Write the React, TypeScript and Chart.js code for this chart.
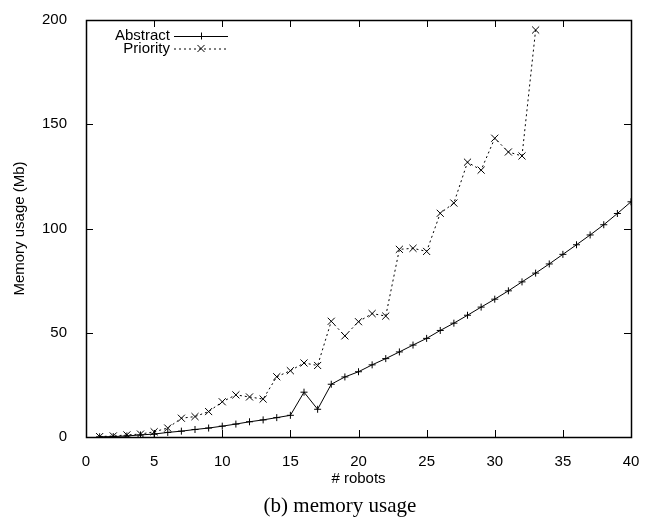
import React, { useEffect, useRef } from 'react';
import { Chart, registerables } from 'chart.js';

Chart.register(...registerables);

const robotsAbstract = [
  1, 2, 3, 4, 5, 6, 7, 8, 9, 10, 11, 12, 13, 14, 15, 16, 17, 18, 19, 20,
  21, 22, 23, 24, 25, 26, 27, 28, 29, 30, 31, 32, 33, 34, 35, 36, 37, 38, 39, 40,
];
const abstractMem = [
  0.1, 0.2, 0.5, 1.0, 1.4, 2.2, 2.8, 3.6, 4.3, 5.2, 6.2, 7.3, 8.2, 9.3, 10.4, 21.5, 13.3, 25.3, 28.8, 31.3,
  34.6, 37.6, 40.8, 44.1, 47.3, 51.1, 54.6, 58.4, 62.3, 66.1, 70.1, 74.4, 78.6, 83.0, 87.6, 92.2, 96.9, 101.8, 107.2, 112.8,
];
const robotsPriority = [
  1, 2, 3, 4, 5, 6, 7, 8, 9, 10, 11, 12, 13, 14, 15, 16, 17, 18, 19, 20,
  21, 22, 23, 24, 25, 26, 27, 28, 29, 30, 31, 32, 33,
];
const priorityMem = [
  0.2, 0.5, 1.0, 1.4, 2.5, 4.3, 9.0, 9.8, 12.2, 16.9, 20.2, 19.2, 18.2, 28.9, 31.8, 35.5, 34.3, 55.5, 48.5, 55.3,
  59.2, 58.0, 90.0, 90.5, 89.0, 107.3, 112.2, 131.8, 128.0, 143.3, 136.7, 134.8, 195.2,
];
const seriesNames = ['Abstract', 'Priority'];
const xTitle = '# robots';
const yTitle = 'Memory usage (Mb)';
const caption = '(b) memory usage';

const SANS = "'Liberation Sans', Arial, sans-serif";
const SERIF = "'Liberation Serif', 'Times New Roman', serif";

const framePlugin = {
  id: 'frameTicks',
  afterDatasetsDraw(chart: any) {
    const { ctx, chartArea, scales } = chart;
    const { left, right, top, bottom } = chartArea;
    const xs = scales.x;
    const ys = scales.y;
    const len = 7;
    ctx.save();
    ctx.strokeStyle = '#000';
    ctx.lineWidth = 1;
    ctx.setLineDash([]);
    ctx.beginPath();
    xs.ticks.forEach((t: any) => {
      const px = Math.round(xs.getPixelForValue(t.value)) + 0.5;
      ctx.moveTo(px, bottom);
      ctx.lineTo(px, bottom - len);
      ctx.moveTo(px, top);
      ctx.lineTo(px, top + len);
    });
    ys.ticks.forEach((t: any) => {
      const py = Math.round(ys.getPixelForValue(t.value)) + 0.5;
      ctx.moveTo(left, py);
      ctx.lineTo(left + len, py);
      ctx.moveTo(right, py);
      ctx.lineTo(right - len, py);
    });
    ctx.stroke();
    ctx.lineWidth = 1.5;
    ctx.strokeRect(Math.round(left) + 0.5, Math.round(top) + 0.5, Math.round(right - left), Math.round(bottom - top));
    ctx.restore();
  },
};

const legendPlugin = {
  id: 'insideLegend',
  afterDraw(chart: any) {
    const { ctx, chartArea } = chart;
    const textRight = chartArea.left + 84;
    const sx0 = textRight + 4;
    const sx1 = sx0 + 54;
    const rowY = [chartArea.top + 16, chartArea.top + 28.5];
    ctx.save();
    ctx.font = `15px ${SANS}`;
    ctx.fillStyle = '#000';
    ctx.textAlign = 'right';
    ctx.textBaseline = 'middle';
    chart.data.datasets.forEach((ds: any, i: number) => {
      const y = rowY[i];
      ctx.fillText(ds.label, textRight, y);
      ctx.strokeStyle = '#000';
      ctx.lineWidth = 1;
      ctx.setLineDash(ds.borderDash || []);
      ctx.beginPath();
      ctx.moveTo(sx0, y + 0.5);
      ctx.lineTo(sx1, y + 0.5);
      ctx.stroke();
      ctx.setLineDash([]);
      const cx = (sx0 + sx1) / 2;
      const r = ds.pointRadius;
      ctx.beginPath();
      if (ds.pointStyle === 'cross') {
        ctx.moveTo(cx - r, y + 0.5);
        ctx.lineTo(cx + r, y + 0.5);
        ctx.moveTo(cx + 0.5, y - r);
        ctx.lineTo(cx + 0.5, y + r);
      } else {
        const d = r * Math.SQRT1_2;
        ctx.moveTo(cx - d, y - d);
        ctx.lineTo(cx + d, y + d);
        ctx.moveTo(cx - d, y + d);
        ctx.lineTo(cx + d, y - d);
      }
      ctx.stroke();
    });
    ctx.restore();
  },
};

const captionPlugin = {
  id: 'caption',
  afterDraw(chart: any) {
    const { ctx } = chart;
    ctx.save();
    ctx.font = `21px ${SERIF}`;
    ctx.fillStyle = '#000';
    ctx.textAlign = 'center';
    ctx.textBaseline = 'middle';
    ctx.fillText(caption, 340, 506);
    ctx.restore();
  },
};

export default function App() {
  const canvasRef = useRef<HTMLCanvasElement | null>(null);

  useEffect(() => {
    if (!canvasRef.current) return;
    const chart = new Chart(canvasRef.current, {
      type: 'line',
      data: {
        datasets: [
          {
            label: seriesNames[0],
            data: robotsAbstract.map((x, i) => ({ x, y: abstractMem[i] })),
            borderColor: '#000',
            backgroundColor: '#000',
            borderWidth: 1,
            pointStyle: 'cross',
            pointRadius: 3.5,
            pointBorderWidth: 1,
            pointBorderColor: '#000',
            fill: false,
            tension: 0,
          },
          {
            label: seriesNames[1],
            data: robotsPriority.map((x, i) => ({ x, y: priorityMem[i] })),
            borderColor: '#000',
            backgroundColor: '#000',
            borderWidth: 1,
            borderDash: [2, 3],
            pointStyle: 'crossRot',
            pointRadius: 5,
            pointBorderWidth: 1,
            pointBorderColor: '#000',
            fill: false,
            tension: 0,
          },
        ],
      },
      options: {
        responsive: false,
        animation: false,
        layout: { padding: { top: 15, right: 17, left: 0, bottom: 0 } },
        plugins: {
          legend: { display: false },
          tooltip: { enabled: false },
        },
        scales: {
          x: {
            type: 'linear',
            min: 0,
            max: 40,
            grid: { display: false },
            border: { display: false },
            ticks: { stepSize: 5, color: '#000', font: { family: SANS, size: 15 }, padding: 8, maxRotation: 0 },
            title: { display: true, text: xTitle, color: '#000', font: { family: SANS, size: 15 }, padding: { top: 0, bottom: 32 } },
            afterFit: (s: any) => { s.height = 83; },
          },
          y: {
            type: 'linear',
            min: 0,
            max: 200,
            grid: { display: false },
            border: { display: false },
            ticks: { stepSize: 50, color: '#000', font: { family: SANS, size: 15 }, padding: 11 },
            title: { display: true, text: yTitle, color: '#000', font: { family: SANS, size: 15 }, padding: { top: 11, bottom: 0 } },
            afterFit: (s: any) => { s.width = 86; },
          },
        },
      },
      plugins: [framePlugin, legendPlugin, captionPlugin],
    });
    return () => chart.destroy();
  }, []);

  return (
    <div style={{ position: 'absolute', left: 0, top: 0, width: 648, height: 520, background: '#fff' }}>
      <canvas ref={canvasRef} width={648} height={520} />
    </div>
  );
}
